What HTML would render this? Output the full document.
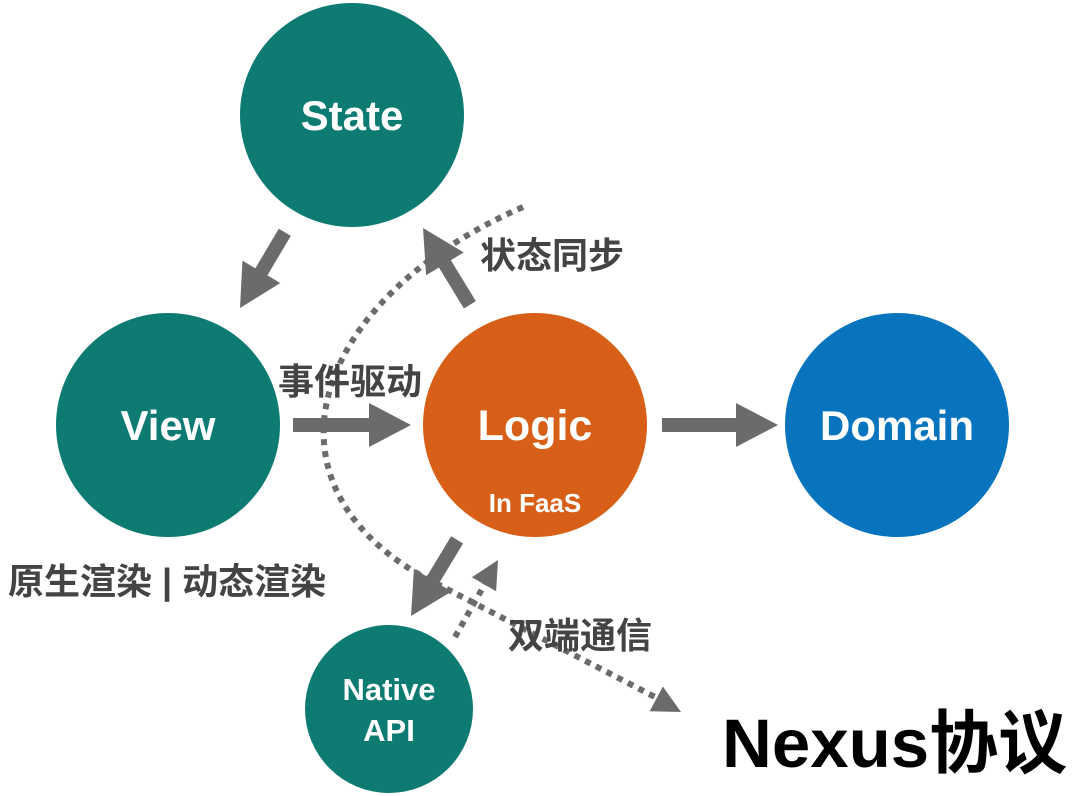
<!DOCTYPE html>
<html><head><meta charset="utf-8"><style>
html,body{margin:0;padding:0;background:#fff;}
svg{display:block}
text{font-family:"Liberation Sans","Noto Sans CJK SC",sans-serif;font-weight:bold;}
</style></head><body>
<svg width="1080" height="796" viewBox="0 0 1080 796" xmlns="http://www.w3.org/2000/svg">
<circle cx="352" cy="115" r="112" fill="#0e7b72"/>
<circle cx="168" cy="425" r="112" fill="#0e7b72"/>
<circle cx="535" cy="425" r="112" fill="#d75f17"/>
<circle cx="897" cy="425" r="112" fill="#0874bd"/>
<circle cx="389" cy="709" r="84" fill="#0e7b72"/>
<text x="352" y="130" font-size="42" fill="#fff" text-anchor="middle">State</text>
<text x="168" y="440" font-size="42" fill="#fff" text-anchor="middle">View</text>
<text x="535" y="440" font-size="43" fill="#fff" text-anchor="middle">Logic</text>
<text x="535" y="512" font-size="26" fill="#fff" text-anchor="middle">In FaaS</text>
<text x="897" y="440" font-size="42" fill="#fff" text-anchor="middle">Domain</text>
<text x="389" y="700" font-size="31" fill="#fff" text-anchor="middle">Native</text>
<text x="389" y="741" font-size="31" fill="#fff" text-anchor="middle">API</text>
<g fill="#6b6b6b">
<polygon transform="translate(240,308) rotate(120.6)" points="0,0 -42,-22 -42,-7 -88,-7 -88,7 -42,7 -42,22"/>
<polygon transform="translate(423,228) rotate(-121.4)" points="0,0 -42,-22 -42,-7 -90,-7 -90,7 -42,7 -42,22"/>
<polygon transform="translate(411,425)" points="0,0 -42,-22 -42,-7 -118,-7 -118,7 -42,7 -42,22"/>
<polygon transform="translate(778,425)" points="0,0 -42,-22 -42,-7 -116,-7 -116,7 -42,7 -42,22"/>
<polygon transform="translate(411,616) rotate(121.2)" points="0,0 -42,-22 -42,-7 -89,-7 -89,7 -42,7 -42,22"/>
</g>
<g stroke="#6b6b6b" stroke-width="6" fill="none" stroke-dasharray="6,6">
<path d="M523,207 C310,300 255,480 420,575 L655,697"/>
<line x1="455" y1="637" x2="486" y2="582"/>
</g>
<g fill="#6b6b6b">
<polygon transform="translate(681,712) rotate(28)" points="0,0 -28,-14 -28,14"/>
<polygon transform="translate(498,560) rotate(-60)" points="0,0 -28,-14 -28,14"/>
</g>
<text x="480" y="268" font-size="36" fill="#444">状态同步</text>
<text x="278" y="394" font-size="36" fill="#444">事件驱动</text>
<text x="8" y="594" font-size="36" fill="#444">原生渲染 | 动态渲染</text>
<text x="508" y="648" font-size="36" fill="#444">双端通信</text>
<text x="722" y="767" font-size="69" fill="#000">Nexus协议</text>
</svg>
</body></html>
